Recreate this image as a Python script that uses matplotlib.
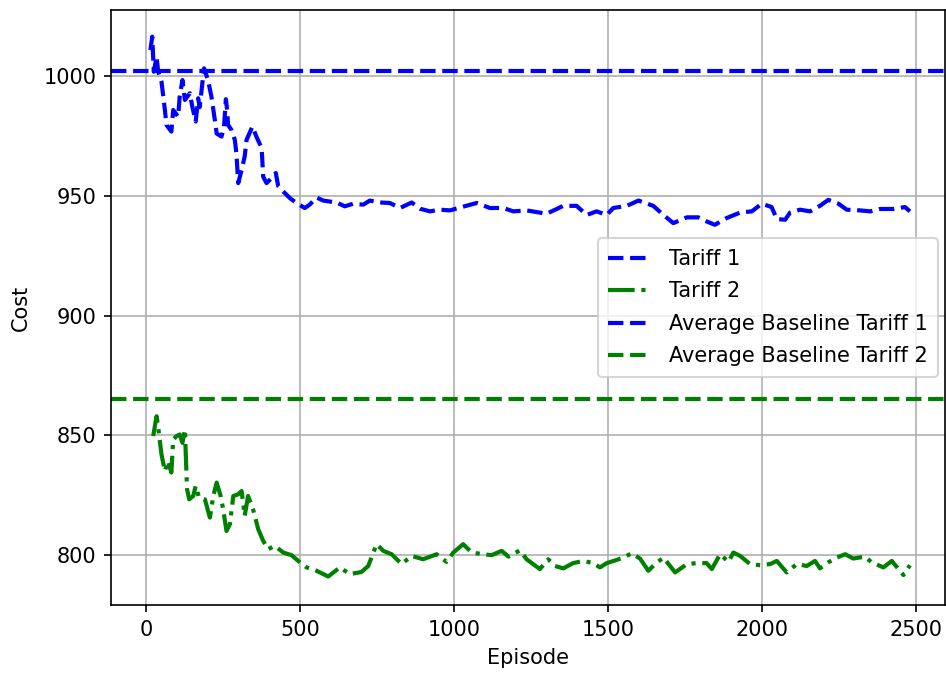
import matplotlib.pyplot as plt

# Tariff 1 (smoothed cost per episode)
t1_episode = [15, 21, 26, 35, 40, 51, 62, 67, 83, 89, 105, 110, 119, 127, 143, 151,
              162, 170, 175, 189, 202, 213, 224, 230, 246, 254, 260, 264, 267, 278,
              289, 294, 300, 311, 321, 327, 346, 359, 376, 381, 392, 408, 422, 430,
              446, 468, 489, 516, 532, 554, 576, 597, 619, 646, 673, 706, 727, 760,
              792, 825, 863, 890, 922, 955, 987, 1014, 1074, 1117, 1160, 1193, 1236,
              1301, 1355, 1398, 1431, 1463, 1496, 1517, 1561, 1599, 1647, 1680, 1712,
              1756, 1793, 1820, 1847, 1885, 1929, 1967, 1999, 2031, 2048, 2075, 2091,
              2123, 2156, 2188, 2215, 2248, 2275, 2318, 2351, 2383, 2426, 2464, 2480]
t1_cost = [1010.8, 1016.4, 1001.8, 1008.0, 1002.0, 997.6, 985.8, 979.6, 976.8, 985.8,
           983.0, 991.4, 998.3, 990.0, 992.8, 987.2, 981.0, 990.7, 987.0, 1003.2,
           998.3, 991.4, 981.7, 976.0, 974.7, 978.9, 990.3, 985.8, 979.6, 977.5,
           973.3, 967.8, 955.3, 960.8, 966.4, 973.3, 978.9, 974.7, 969.9, 958.0,
           955.3, 957.4, 959.5, 953.9, 951.8, 949.0, 947.0, 944.9, 946.3, 949.3,
           948.0, 947.6, 947.2, 945.6, 946.7, 946.3, 948.0, 947.2, 947.0, 944.9,
           947.2, 944.6, 943.5, 944.2, 943.9, 944.9, 947.0, 944.9, 944.9, 943.5,
           943.9, 942.5, 945.8, 945.8, 942.0, 943.5, 942.0, 944.9, 945.8, 948.0,
           945.8, 942.0, 938.6, 941.0, 941.0, 939.3, 937.9, 940.7, 943.0, 943.5,
           946.7, 945.3, 940.3, 940.0, 943.0, 944.2, 943.5, 945.8, 948.3, 946.7,
           944.2, 943.9, 943.5, 944.5, 944.5, 945.3, 943.5]

# Tariff 2
t2_episode = [24, 35, 40, 45, 51, 62, 72, 83, 89, 100, 110, 119, 127, 130, 134, 141,
              154, 162, 173, 192, 208, 219, 230, 243, 251, 262, 273, 284, 300, 311,
              321, 332, 348, 365, 381, 397, 419, 446, 473, 495, 522, 554, 592, 630,
              662, 700, 722, 749, 771, 798, 830, 863, 900, 944, 976, 998, 1030, 1058,
              1095, 1122, 1155, 1177, 1214, 1236, 1279, 1306, 1328, 1355, 1387, 1420,
              1452, 1474, 1496, 1528, 1550, 1577, 1604, 1631, 1653, 1680, 1718, 1756,
              1788, 1820, 1837, 1864, 1891, 1907, 1929, 1961, 1994, 2026, 2048, 2080,
              2113, 2145, 2172, 2188, 2215, 2242, 2270, 2296, 2334, 2356, 2394, 2421,
              2443, 2459, 2480]
t2_cost = [849.7, 858.0, 853.9, 848.3, 842.0, 835.1, 839.3, 834.5, 848.3, 849.7,
           850.4, 846.9, 852.5, 841.4, 827.5, 823.3, 824.7, 828.9, 824.0, 823.3,
           815.7, 824.7, 830.3, 824.7, 819.2, 810.1, 812.9, 824.7, 825.4, 826.8,
           816.4, 824.7, 819.2, 810.8, 806.0, 802.5, 803.9, 801.1, 800.0, 797.6,
           794.9, 793.5, 791.1, 794.9, 792.1, 793.0, 795.5, 804.6, 801.8, 800.4,
           796.3, 799.7, 798.3, 800.4, 797.2, 801.1, 804.6, 801.1, 800.4, 800.0,
           801.8, 799.4, 802.0, 798.3, 794.2, 798.3, 795.5, 794.5, 796.7, 797.6,
           796.7, 794.9, 796.7, 798.0, 799.0, 800.8, 798.6, 793.5, 796.3, 799.0,
           792.8, 796.3, 796.7, 796.7, 794.2, 800.4, 797.2, 801.1, 799.7, 796.3,
           795.8, 796.3, 797.6, 792.8, 796.3, 795.5, 797.6, 794.5, 797.0, 799.0,
           800.4, 798.6, 799.4, 797.0, 794.9, 797.6, 794.2, 791.7, 795.8]

baseline_t1 = 1002.0
baseline_t2 = 865.0

fig = plt.figure(figsize=(946 / 150, 673 / 150), dpi=150)
ax = fig.add_axes([0.1173, 0.101, 0.8817, 0.884])

ax.plot(t1_episode, t1_cost, color="blue", linestyle="--", linewidth=2, label="Tariff 1")
ax.plot(t2_episode, t2_cost, color="green", linestyle="-.", linewidth=2, label="Tariff 2")
ax.axhline(baseline_t1, color="blue", linestyle="--", linewidth=2,
           label="Average Baseline Tariff 1")
ax.axhline(baseline_t2, color="green", linestyle="--", linewidth=2,
           label="Average Baseline Tariff 2")

ax.set_xlim(-113, 2594)
ax.set_ylim(779.2, 1027.5)
ax.set_xlabel("Episode")
ax.set_ylabel("Cost", labelpad=6)
ax.grid(True)
ax.legend(loc="center right", labelspacing=0.6, borderpad=0.5,
          handlelength=2.1, borderaxespad=0.35)

fig.savefig("out.png", dpi=150)
